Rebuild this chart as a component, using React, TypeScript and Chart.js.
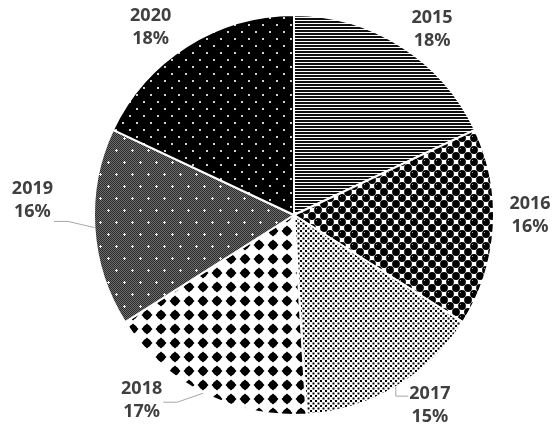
import React, { useEffect, useRef } from "react";
import { Chart, registerables } from "chart.js";

Chart.register(...registerables);

const categories = ["2015", "2016", "2017", "2018", "2019", "2020"];
const values = [18, 16, 15, 17, 16, 18];

// label layout: angular nudge (deg) from slice middle, radial distance factor, leader flag
const labelNudgeDeg = [4.3, -3.6, -4.9, 12.4, 6.9, -5];
const labelRadius = [1.155, 1.18, 1.17, 1.2, 1.31, 1.18];
const labelLeader = [false, false, true, true, true, false];

function tile(
  w: number,
  h: number,
  draw: (c: CanvasRenderingContext2D) => void
): HTMLCanvasElement {
  const c = document.createElement("canvas");
  c.width = w;
  c.height = h;
  const ctx = c.getContext("2d")!;
  draw(ctx);
  return c;
}

function makePatterns(ctx: CanvasRenderingContext2D): CanvasPattern[] {
  const stripes = tile(4, 3, (c) => {
    c.fillStyle = "#fff";
    c.fillRect(0, 0, 4, 3);
    c.fillStyle = "#111";
    c.fillRect(0, 0, 4, 2);
  });
  const balls = tile(12, 12, (c) => {
    c.fillStyle = "#fff";
    c.fillRect(0, 0, 12, 12);
    c.fillStyle = "#000";
    const pts = [
      [0, 0], [12, 0], [0, 12], [12, 12], [6, 6],
    ];
    for (const [px, py] of pts) {
      c.beginPath();
      c.arc(px, py, 3.9, 0, Math.PI * 2);
      c.fill();
    }
    c.fillStyle = "#999";
    c.fillRect(4, 4, 1, 1);
  });
  const squares = tile(5, 5, (c) => {
    c.fillStyle = "#fff";
    c.fillRect(0, 0, 5, 5);
    c.fillStyle = "#000";
    c.fillRect(0, 0, 2, 2);
    c.fillRect(2.5, 2.5, 2, 2);
  });
  const diamonds = tile(14, 14, (c) => {
    c.fillStyle = "#fff";
    c.fillRect(0, 0, 14, 14);
    c.fillStyle = "#000";
    c.beginPath();
    c.moveTo(7, 1.5);
    c.lineTo(12.5, 7);
    c.lineTo(7, 12.5);
    c.lineTo(1.5, 7);
    c.closePath();
    c.fill();
    c.beginPath();
    c.arc(7, 7, 4.2, 0, Math.PI * 2);
    c.fill();
  });
  const checker = tile(16, 24, (c) => {
    c.fillStyle = "#6e6e6e";
    c.fillRect(0, 0, 16, 24);
    c.fillStyle = "#2a2a2a";
    for (let yy = 0; yy < 24; yy++)
      for (let xx = 0; xx < 16; xx++)
        if ((xx + yy) % 2 === 0) c.fillRect(xx, yy, 1, 1);
    c.fillStyle = "#f4f4f4";
    for (const [px, py] of [[4, 6], [12, 18]]) {
      c.fillRect(px - 1, py, 3, 1);
      c.fillRect(px, py - 1, 1, 3);
    }
  });
  const dots = tile(14, 14, (c) => {
    c.fillStyle = "#000";
    c.fillRect(0, 0, 14, 14);
    c.fillStyle = "#d0d0d0";
    c.fillRect(3, 3, 2, 2);
    c.fillRect(10, 10, 2, 2);
  });
  return [stripes, balls, squares, diamonds, checker, dots].map(
    (t) => ctx.createPattern(t, "repeat") as CanvasPattern
  );
}

const labelPlugin = {
  id: "pieLabels",
  afterDraw(chart: any) {
    const ctx: CanvasRenderingContext2D = chart.ctx;
    const meta = chart.getDatasetMeta(0);
    const total = values.reduce((a, b) => a + b, 0);
    ctx.save();
    ctx.font = "bold 18px 'Noto Sans'";
    ctx.textAlign = "center";
    ctx.textBaseline = "middle";
    meta.data.forEach((arc: any, i: number) => {
      const p = arc.getProps(["x", "y", "startAngle", "endAngle", "outerRadius"], true);
      const mid = (p.startAngle + p.endAngle) / 2;
      const a = mid + (labelNudgeDeg[i] * Math.PI) / 180;
      const R = p.outerRadius * labelRadius[i];
      const lx = p.x + Math.cos(a) * R;
      const ly = p.y + Math.sin(a) * R;
      const line1 = categories[i];
      const line2 = Math.round((values[i] / total) * 100) + "%";
      const gap = 11.5;
      if (labelLeader[i]) {
        const ex = p.x + Math.cos(mid) * p.outerRadius;
        const ey = p.y + Math.sin(mid) * p.outerRadius;
        const w = Math.max(ctx.measureText(line1).width, ctx.measureText(line2).width);
        const left = ex > lx;
        const sideX = left ? lx + w / 2 + 1 : lx - w / 2 - 1;
        const top = ly - gap - 10;
        const bottom = ly + gap + 10;
        const ay = Math.min(Math.max(ey + 9, top), bottom);
        let elbowX = left ? sideX + 14 : sideX - 14;
        if (left) elbowX = Math.min(elbowX, ex);
        else elbowX = Math.max(elbowX, ex);
        ctx.strokeStyle = "#a6a6a6";
        ctx.lineWidth = 1;
        ctx.beginPath();
        ctx.moveTo(ex, ey);
        ctx.lineTo(elbowX, ay);
        ctx.lineTo(sideX, ay);
        ctx.stroke();
      }
      ctx.fillStyle = "#404040";
      ctx.fillText(line1, lx, ly - gap);
      ctx.fillText(line2, lx, ly + gap);
    });
    ctx.restore();
  },
};

export default function App() {
  const ref = useRef<HTMLCanvasElement>(null);
  useEffect(() => {
    document.body.style.margin = "0";
    const canvas = ref.current!;
    const ctx = canvas.getContext("2d")!;
    const patterns = makePatterns(ctx);
    const chart = new Chart(canvas, {
      type: "pie",
      data: {
        labels: categories,
        datasets: [
          {
            data: values,
            backgroundColor: patterns as any,
            borderColor: "#ffffff",
            borderWidth: 2,
          },
        ],
      },
      options: {
        responsive: false,
        animation: false,
        layout: { padding: { top: 14, bottom: 9, left: 93, right: 57 } },
        plugins: {
          legend: { display: false },
          tooltip: { enabled: false },
        },
      },
      plugins: [labelPlugin],
    });
    return () => chart.destroy();
  }, []);
  return (
    <div style={{ width: 552, height: 425, background: "#fff" }}>
      <canvas ref={ref} width={552} height={425} style={{ display: "block" }} />
    </div>
  );
}
